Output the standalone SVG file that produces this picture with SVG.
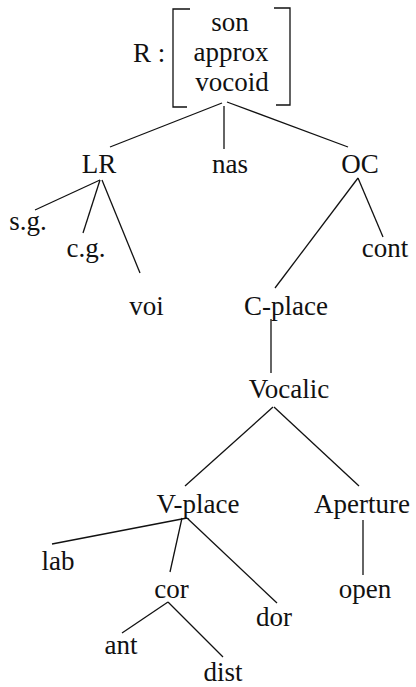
<svg xmlns="http://www.w3.org/2000/svg" width="416" height="687" viewBox="0 0 416 687">
<style>
text{font-family:'Liberation Serif','Times New Roman',serif;font-size:27px;fill:#111;text-anchor:middle}
line,path{stroke:#111;stroke-width:1.3;fill:none}
</style>
<rect width="416" height="687" fill="#fff"/>
<g id="connectors">
<line x1="222" y1="103" x2="110" y2="147"/>
<line x1="224" y1="106" x2="224" y2="149"/>
<line x1="227" y1="102" x2="348" y2="147"/>
<line x1="100" y1="180" x2="35" y2="210"/>
<line x1="100" y1="180" x2="83" y2="233"/>
<line x1="102" y1="180" x2="140" y2="273"/>
<line x1="358" y1="178" x2="275" y2="288"/>
<line x1="358" y1="178" x2="383" y2="237"/>
<line x1="271" y1="319" x2="271" y2="373"/>
<line x1="273" y1="407" x2="185" y2="486"/>
<line x1="274" y1="407" x2="359" y2="486"/>
<line x1="187" y1="518" x2="52" y2="544"/>
<line x1="182" y1="518" x2="170" y2="572"/>
<line x1="187" y1="518" x2="277" y2="603"/>
<line x1="363" y1="520" x2="363" y2="575"/>
<line x1="168" y1="602" x2="122" y2="633"/>
<line x1="168" y1="602" x2="223" y2="657"/>
</g>
<g id="R">
<text x="133" y="62" style="text-anchor:start">R :</text>
<path d="M190,9 H173 V107 H187"/>
<path d="M274,8 H290 V105 H276"/>
<text x="230" y="31">son</text>
<text x="231" y="61">approx</text>
<text x="232" y="91">vocoid</text>
</g>
<g id="LR"><text x="99" y="173">LR</text></g>
<g id="nas"><text x="230" y="173">nas</text></g>
<g id="OC"><text x="360" y="173">OC</text></g>
<g id="sg"><text x="28" y="230">s.g.</text></g>
<g id="cg"><text x="86" y="257">c.g.</text></g>
<g id="voi"><text x="146.5" y="315">voi</text></g>
<g id="cont"><text x="385" y="257">cont</text></g>
<g id="C-place"><text x="286" y="315">C-place</text></g>
<g id="Vocalic"><text x="289" y="398">Vocalic</text></g>
<g id="V-place"><text x="198" y="513">V-place</text></g>
<g id="Aperture"><text x="362" y="513">Aperture</text></g>
<g id="lab"><text x="58" y="570">lab</text></g>
<g id="cor"><text x="171.5" y="598">cor</text></g>
<g id="open"><text x="365" y="598">open</text></g>
<g id="dor"><text x="274" y="626">dor</text></g>
<g id="ant"><text x="121" y="654">ant</text></g>
<g id="dist"><text x="223" y="681">dist</text></g>
</svg>
